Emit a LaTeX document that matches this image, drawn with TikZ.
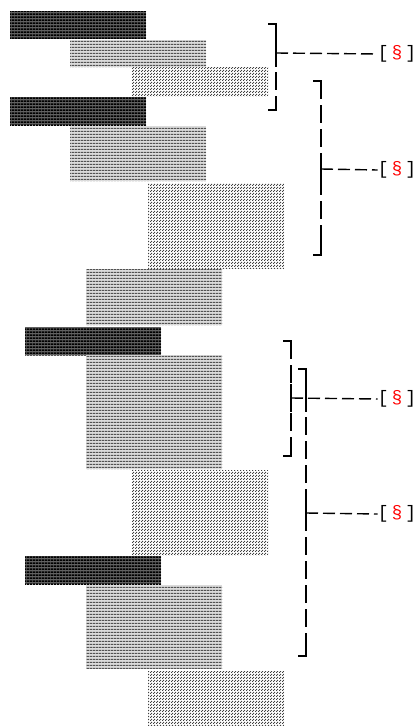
\documentclass[tikz,border=0pt]{standalone}
\usepackage{fontspec}
\setmonofont{Liberation Mono}
\usetikzlibrary{patterns.meta}
\tikzdeclarepattern{name=hlA, type=uncolored,
  bottom left={(0pt,0pt)}, top right={(3pt,3pt)}, tile size={(3pt,3pt)},
  code={\fill (0pt,0pt) rectangle (3pt,2pt);}}
\tikzdeclarepattern{name=hlB, type=uncolored,
  bottom left={(0pt,0pt)}, top right={(3pt,3pt)}, tile size={(3pt,3pt)},
  code={\fill (0pt,0pt) rectangle (3pt,1.5pt);}}
\tikzdeclarepattern{name=dotsC, type=uncolored,
  bottom left={(0pt,0pt)}, top right={(3pt,3pt)}, tile size={(3pt,3pt)},
  code={\fill (0pt,0pt) rectangle (1.4pt,1.4pt); \fill (1.5pt,1.5pt) rectangle (2.9pt,2.9pt);}}
\tikzset{
  bar/.style={inner sep=0pt, outer sep=0pt, anchor=north west, minimum width=136pt},
  darkbar/.style={bar, preaction={fill=black!62}, pattern=hlA, pattern color=black},
  midbar/.style={bar, preaction={fill=gray!28}, pattern=hlB, pattern color=black!68},
  lightbar/.style={bar, preaction={fill=white}, pattern=dotsC, pattern color=black!75},
  vdash/.style={line width=1.2pt, dash pattern=on 18pt off 6pt},
  corner/.style={line width=1.8pt},
  midtick/.style={line width=1.8pt},
  hdash/.style={line width=1.4pt, dash pattern=on 12pt off 5pt},
  lab/.style={inner sep=0pt, font=\ttfamily\fontsize{18}{18}\selectfont},
}
\begin{document}
\begin{tikzpicture}[x=1pt,y=-1pt]
\useasboundingbox (0,0) rectangle (417,726);
% bars
\node[darkbar, minimum height=28pt] (b1) at (10,11) {};
\node[midbar, minimum height=27pt] (b2) at (70,40) {};
\node[lightbar, minimum height=29pt] (b3) at (132,67) {};
\node[darkbar, minimum height=28pt] (b4) at (10,97) {};
\node[midbar, minimum height=55pt] (b5) at (70,126) {};
\node[lightbar, minimum height=85pt] (b6) at (148,183) {};
\node[midbar, minimum height=56pt] (b7) at (86,269) {};
\node[darkbar, minimum height=28pt] (b8) at (25,327) {};
\node[midbar, minimum height=114pt] (b9) at (86,355) {};
\node[lightbar, minimum height=85pt] (b10) at (132,470) {};
\node[darkbar, minimum height=28pt] (b11) at (25,556) {};
\node[midbar, minimum height=84pt] (b12) at (86,585) {};
\node[lightbar, minimum height=60pt] (b13) at (148,671) {};
% labels
\node[lab] (l1) at (397,54) {[\,\textcolor{red}{\S}\,]};
\node[lab] (l2) at (397,170) {[\,\textcolor{red}{\S}\,]};
\node[lab] (l3) at (397,399) {[\,\textcolor{red}{\S}\,]};
\node[lab] (l4) at (397,514) {[\,\textcolor{red}{\S}\,]};
% brackets
\foreach \n/\x/\t/\b/\m in {1/276/24/110/53, 2/321/81/255/169, 3/291/341/456/398, 4/306/369/656/513}{
  \coordinate (t\n) at (\x,\t);
  \coordinate (e\n) at (\x,\b);
  \coordinate (m\n) at (\x,\m);
  \draw[vdash] (t\n) -- (e\n);
  \draw[corner] (\x-8,\t) -- (t\n) -- (\x,\t+14);
  \draw[corner] (\x-8,\b) -- (e\n) -- (\x,\b-14);
  \draw[midtick] (\x,\m-14) -- (\x,\m+14);
}
\draw[midtick] (306,385) -- (306,412);
\draw[hdash] (m1) -- (l1.west);
\draw[hdash] (m2) -- (l2.west);
\draw[hdash] (m3) -- (l3.west);
\draw[hdash] (m4) -- (l4.west);
\end{tikzpicture}
\end{document}
